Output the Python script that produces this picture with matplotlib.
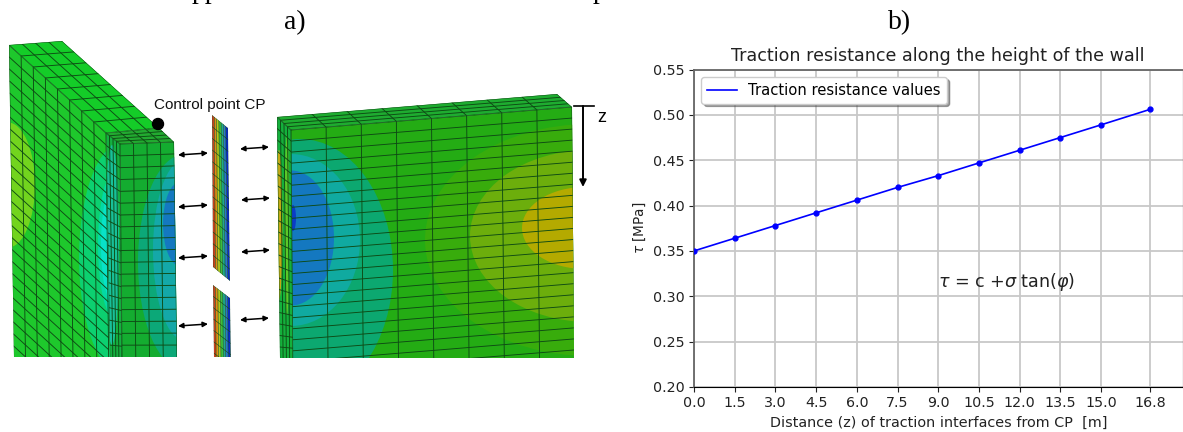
import numpy as np
import matplotlib
matplotlib.use('Agg')
import matplotlib.pyplot as plt
from matplotlib.patches import Polygon, Ellipse, Circle

# values read off panel b)
distance = [0.0, 1.5, 3.0, 4.5, 6.0, 7.5, 9.0, 10.5, 12.0, 13.5, 15.0, 16.8]
resistance = [0.350, 0.364, 0.378, 0.392, 0.406, 0.420, 0.433, 0.447, 0.461, 0.475, 0.489, 0.506]
y_ticks = [0.20, 0.25, 0.30, 0.35, 0.40, 0.45, 0.50, 0.55]

# colours of the stripes on the interface pieces, left to right
stripe_colors = ['#c8401e', '#e08c14', '#b4c81e', '#3cbe3c', '#1eaa8c', '#2878c8', '#0a28c8']

# arrows between the parts, pixel positions in panel a)
arrows_left = [(178, 155, 208, 153), (178, 207, 208, 205), (178, 258, 208, 256), (178, 326, 208, 324)]
arrows_right = [(240, 149, 269, 147), (241, 200, 270, 198), (241, 252, 270, 250), (240, 320, 269, 318)]

W, H = 1183, 432
fig = plt.figure(figsize=(W / 100, H / 100), dpi=100)

# panel a) is drawn in pixel coordinates
pic = fig.add_axes([0, 0, 1, 1])
pic.set_xlim(0, W)
pic.set_ylim(H, 0)
pic.axis('off')


def point(quad, u, v):
    tl, tr, br, bl = [np.array(p, dtype=float) for p in quad]
    return (tl * (1 - u) + tr * u) * (1 - v) + (bl * (1 - u) + br * u) * v


def face(outline, color, z=1):
    patch = Polygon(outline, closed=True, facecolor=color, edgecolor='none', zorder=z)
    pic.add_patch(patch)
    return patch


def blob(clip, xy, w, h, color, z=1):
    e = Ellipse(xy, w, h, facecolor=color, edgecolor='none', zorder=z)
    pic.add_patch(e)
    e.set_clip_path(clip)


def mesh(quad, clip, us, vs, z=2, lw=0.65, color='#0e4a14'):
    for u in us:
        a, b = point(quad, u, 0), point(quad, u, 1)
        l, = pic.plot([a[0], b[0]], [a[1], b[1]], color=color, lw=lw, zorder=z)
        l.set_clip_path(clip)
    for v in vs:
        a, b = point(quad, 0, v), point(quad, 1, v)
        l, = pic.plot([a[0], b[0]], [a[1], b[1]], color=color, lw=lw, zorder=z)
        l.set_clip_path(clip)


def stripes(quad, clip_outline, z=1):
    clip = Polygon(clip_outline, closed=True, transform=pic.transData)
    n = len(stripe_colors)
    for i, c in enumerate(stripe_colors):
        p = Polygon([point(quad, i / n, 0), point(quad, (i + 1) / n, 0),
                     point(quad, (i + 1) / n, 1), point(quad, i / n, 1)],
                    closed=True, facecolor=c, edgecolor='none', zorder=z)
        pic.add_patch(p)
        p.set_clip_path(clip)
    return clip


# left wall, long side
q = [(9, 45), (106, 133), (110, 470), (14, 382)]
c = face([(9, 45), (106, 133), (110, 357), (14, 357)], '#1ec82c')
blob(c, (8, 185), 54, 125, '#72d41e')
blob(c, (122, 258), 86, 230, '#0cd070')
blob(c, (116, 245), 36, 150, '#04d8a4')
blob(c, (113, 245), 24, 115, '#08e2c8')
mesh(q, c, np.linspace(0, 1, 9), np.linspace(0, 1, 29))

# left wall, top
q = [(9, 45), (62, 41), (159, 128), (106, 133)]
c = face(q, '#14cc28')
mesh(q, c, np.linspace(0, 1, 5), np.linspace(0, 1, 9))

# front block, top and narrow side
q = [(106, 133), (159, 128), (174, 142), (120, 144)]
c = face(q, '#22aa30', 3)
mesh(q, c, np.linspace(0, 1, 5), np.linspace(0, 1, 5), z=4)

q = [(106, 133), (120, 144), (122, 370), (110, 370)]
c = face([(106, 133), (120, 144), (122, 357), (110, 357)], '#14b040', 3)
blob(c, (112, 245), 14, 200, '#18c09a', 3)
mesh(q, c, np.linspace(0, 1, 5), np.linspace(0, 1, 20), z=4)

# front block, front
q = [(120, 144), (174, 142), (177, 357), (122, 357)]
c = face(q, '#14ac30', 3)
blob(c, (184, 262), 92, 215, '#0ca878', 3)
blob(c, (184, 250), 62, 180, '#14a8a8', 3)
blob(c, (180, 224), 34, 84, '#1478c0', 3)
mesh(q, c, np.linspace(0, 1, 5), np.linspace(0, 1, 19), z=4)

# interface pieces
q = [(212, 115), (228, 128), (230, 281), (213, 267)]
c = stripes(q, q)
mesh(q, c, np.linspace(0, 1, 8), np.linspace(0, 1, 14), lw=0.4)
q = [(213, 285), (230, 298), (231, 400), (214, 387)]
c = stripes(q, [(213, 285), (230, 298), (231, 357), (214, 357)])
mesh(q, c, np.linspace(0, 1, 8), np.linspace(0, 1, 10), lw=0.4)

# right block, front
q = [(291, 130), (572, 107), (575, 372), (293, 395)]
c = face([(291, 130), (572, 107), (574, 358), (293, 358)], '#24ac14')
blob(c, (590, 240), 330, 232, '#38ac0c')
blob(c, (590, 236), 240, 172, '#6cae0c')
blob(c, (585, 228), 126, 82, '#b4aa00')
blob(c, (300, 270), 186, 262, '#0ca870')
blob(c, (291, 240), 138, 172, '#10aaa0')
blob(c, (291, 238), 86, 135, '#1478c0')
blob(c, (293, 218), 6, 26, '#0a3cc8')
mesh(q, c, np.linspace(0, 1, 9), np.linspace(0, 1, 25))

# right block, top and narrow side
q = [(277, 117), (557, 94), (572, 107), (291, 130)]
c = face(q, '#1eac30')
mesh(q, c, np.linspace(0, 1, 9), np.linspace(0, 1, 5))

q = [(277, 117), (291, 130), (293, 370), (280, 370)]
c = face([(277, 117), (291, 130), (293, 358), (280, 358)], '#14b03c')
blob(c, (279, 225), 7, 150, '#c4aa14')
blob(c, (287, 225), 5, 180, '#5cc828')
mesh(q, c, np.linspace(0, 1, 5), np.linspace(0, 1, 23))

# marker and labels of panel a)
pic.add_patch(Circle((158, 124), 5.5, color='black', zorder=6))
pic.text(154, 105, 'Control point CP', fontsize=11, family='Liberation Sans', va='center', color='#111111')
pic.text(295, 23, 'a)', fontsize=20, family='Liberation Serif', ha='center', va='center')
pic.text(900, 23, 'b)', fontsize=20, family='Liberation Serif', ha='center', va='center')
# bottom of the line of text that is cut off by the crop
pic.text(205, -2, 'pp', fontsize=20, family='Liberation Serif', ha='center', va='baseline')
pic.text(600, -2, 'p', fontsize=20, family='Liberation Serif', ha='center', va='baseline')

for x0, y0, x1, y1 in arrows_left + arrows_right:
    pic.annotate('', xy=(x1, y1), xytext=(x0, y0), zorder=6,
                 arrowprops=dict(arrowstyle='<|-|>', color='black', lw=1.1,
                                 mutation_scale=7.5, shrinkA=0, shrinkB=0))

pic.plot([574, 594], [106, 106], color='black', lw=1.2)
pic.annotate('', xy=(583, 187), xytext=(583, 106),
             arrowprops=dict(arrowstyle='-|>', color='black', lw=1.4,
                             mutation_scale=10, shrinkA=0, shrinkB=0))
pic.text(602, 117, 'z', fontsize=13, family='Liberation Sans', ha='center', va='center')

# panel b)
left, right, top, bottom = 694, 1182.5, 69.5, 387
ax = fig.add_axes([left / W, 1 - bottom / H, (right - left) / W, (bottom - top) / H])
ax.plot(distance, resistance, color='blue', lw=1.2, label='Traction resistance values', zorder=3)
ax.plot(distance, resistance, '.', color='blue', ms=7, zorder=3)
ax.set_xlim(0, 18)
ax.set_ylim(0.20, 0.55)
ax.set_xticks(distance)
ax.set_xticklabels(['%.1f' % d for d in distance])
ax.set_yticks(y_ticks)
ax.set_yticklabels(['%.2f' % v for v in y_ticks])
ax.tick_params(labelsize=10.3, pad=3, length=3.5, color='#222222', labelcolor='#222222')
ax.grid(color='#c8c8c8', lw=1.3)
ax.set_axisbelow(True)
ax.spines['left'].set_color('#666666')
ax.spines['left'].set_linewidth(1.3)
ax.spines['top'].set_color('#666666')
ax.spines['top'].set_linewidth(1.3)
ax.set_title('Traction resistance along the height of the wall', fontsize=12.65, x=0.498, pad=6, color='#222222')
ax.set_xlabel('Distance (z) of traction interfaces from CP  [m]', fontsize=10.4, labelpad=4, color='#222222')
ax.set_ylabel(r'$\tau$ [MPa]', fontsize=9.8, labelpad=4, color='#222222')
ax.legend(loc='upper left', fontsize=10.6, shadow=True, fancybox=True, borderaxespad=0.5)
ax.text(9.0, 0.3155, r'$\tau$ = c +$\sigma$ tan($\varphi$)', fontsize=12.6, va='center', color='#222222')

fig.savefig('out.png', dpi=100)
